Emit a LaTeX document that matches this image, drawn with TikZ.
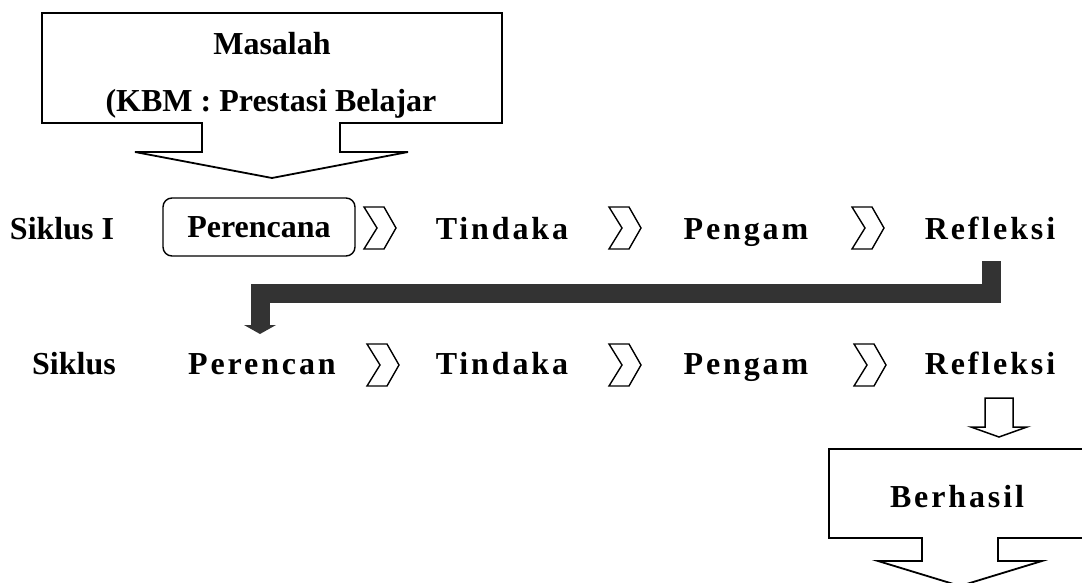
\documentclass[tikz,border=0pt]{standalone}
\usepackage{fontspec}
\setmainfont{Liberation Serif}
\newfontfamily\spacedfont[LetterSpace=9]{Liberation Serif}
\definecolor{barc}{HTML}{333333}
\tikzset{
  lbl/.style={font=\fontsize{32}{38}\selectfont\bfseries, inner sep=0pt, anchor=base},
  sptxt/.style={font=\spacedfont\fontsize{32}{38}\selectfont\bfseries, inner sep=0pt, anchor=base},
  outline/.style={draw=black, line width=1.8pt, line join=miter, fill=white},
  chevron/.pic={\draw[line width=1.4pt, line join=miter] (-16,-21) -- (4,-21) -- (16,0) -- (4,21) -- (-16,21) -- (-3,0) -- cycle;},
  darkbar/.style={draw=barc, line width=19pt, line join=miter},
  roundbox/.style={draw=black, line width=1.4pt, rounded corners=9pt, minimum width=192pt, minimum height=58pt, inner sep=0pt, font=\fontsize{32}{38}\selectfont\bfseries}
}
\begin{document}
\begin{tikzpicture}[x=1pt,y=-1pt]
\useasboundingbox (0,0) rectangle (1082,583);
\clip (0,0) rectangle (1082,583);
% top callout
\draw[outline] (42,13) -- (502,13) -- (502,123) -- (340,123) -- (340,152) -- (408,152) -- (272,178) -- (135,152) -- (202,152) -- (202,123) -- (42,123) -- cycle;
\node[lbl] (masalah) at (272,55) {Masalah};
\node[lbl] (kbm) at (271,112) {(KBM : Prestasi Belajar};
% row 1
\node[lbl] (s1) at (62,239) {Siklus I};
\node[roundbox] (p1) at (259,227) {Perencana};
\pic (ch11) at (380,228) {chevron};
\node[sptxt] (t1) at (502,239) {Tindaka};
\pic (ch12) at (625,228) {chevron};
\node[sptxt] (g1) at (746,239) {Pengam};
\pic (ch13) at (868,228) {chevron};
\node[sptxt] (r1) at (990,239) {Refleksi};
% row 2
\node[lbl] (s2) at (74,374) {Siklus};
\node[sptxt] (p2) at (262,374) {Perencan};
\pic (ch21) at (383,365) {chevron};
\node[sptxt] (t2) at (502,374) {Tindaka};
\pic (ch22) at (625,365) {chevron};
\node[sptxt] (g2) at (746,374) {Pengam};
\pic (ch23) at (870,365) {chevron};
\node[sptxt] (r2) at (990,374) {Refleksi};
% dark connector from Refleksi (row 1) to Perencan (row 2)
\coordinate (barstart) at (991,261);
\coordinate (barend) at (260,325);
\draw[darkbar] (barstart) -- ++(0,32) -| (barend);
\fill[barc] (244,325) -- (276,325) -- (260,334) -- cycle;
% small outline arrow
\draw[outline, line width=1.5pt] (985,398) -- (1013,398) -- (1013,427) -- (1027,427) -- (999,437) -- (971,427) -- (985,427) -- cycle;
% Berhasil callout
\draw[outline] (829,449) -- (1091,449) -- (1091,538) -- (998,538) -- (998,561) -- (1042,561) -- (960,586) -- (878,561) -- (922,561) -- (922,538) -- (829,538) -- cycle;
\node[sptxt] (berhasil) at (957,507) {Berhasil};
\end{tikzpicture}
\end{document}
